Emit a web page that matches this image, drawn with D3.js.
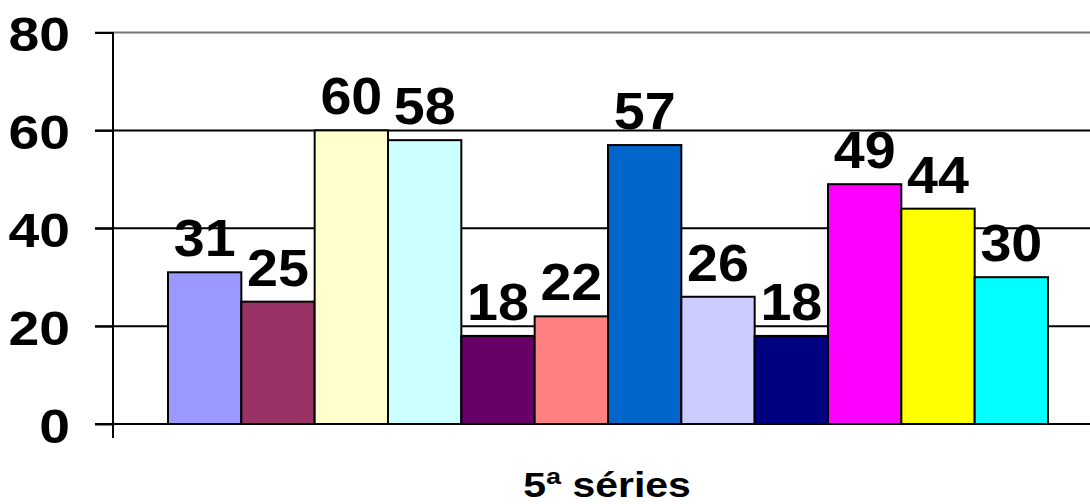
<!DOCTYPE html>
<html><head><meta charset="utf-8">
<script src="https://cdn.jsdelivr.net/npm/d3@7"></script>
<style>body{margin:0;background:#fff}svg{display:block}text{font-family:"Liberation Sans",Arial,sans-serif;font-weight:bold;fill:#000}</style>
</head><body>
<script>
const categories = ["1","2","3","4","5","6","7","8","9","10","11","12"];
const values = [31,25,60,58,18,22,57,26,18,49,44,30];
const colors = ["#9999FF","#993366","#FFFFCC","#CCFFFF","#660066","#FF8080","#0066CC","#CCCCFF","#000080","#FF00FF","#FFFF00","#00FFFF"];
const yTicks = [0,20,40,60,80];
const axisTitle = "5ª séries";

const W=1090,H=504;
const SX=1.13;
const svg=d3.select("body").append("svg").attr("width",W).attr("height",H);
const y=d3.scaleLinear().domain([0,80]).range([424,32.5]);
const x=d3.scaleBand().domain(categories).range([168,1048]).padding(0);

// gridlines
svg.append("g").selectAll("line").data(yTicks).join("line")
  .attr("x1",95).attr("x2",W).attr("y1",d=>y(d)).attr("y2",d=>y(d))
  .attr("stroke",d=>d===80?"#777":"#000").attr("stroke-width",2);

// bars
svg.append("g").selectAll("rect").data(values).join("rect")
  .attr("x",(d,i)=>x(categories[i])).attr("width",x.bandwidth())
  .attr("y",d=>y(d)).attr("height",d=>y(0)-y(d))
  .attr("fill",(d,i)=>colors[i]).attr("stroke","#000").attr("stroke-width",2);

// value labels
svg.append("g").selectAll("text").data(values).join("text")
  .attr("transform",(d,i)=>`translate(${x(categories[i])+x.bandwidth()/2},${y(d)-16}) scale(1.07,1)`)
  .attr("text-anchor","middle").attr("font-size",52).text(d=>d);

// y axis
const yAxis=d3.axisLeft(y).tickValues(yTicks).tickSize(18).tickPadding(0);
const ga=svg.append("g").attr("transform","translate(113,0)").call(yAxis);
ga.select(".domain").remove();
ga.selectAll(".tick line").attr("stroke","#000").attr("stroke-width",2);
ga.selectAll(".tick text").attr("x",null).attr("dy",null)
  .attr("transform",`translate(-43,18) scale(${SX},1)`)
  .attr("font-size",49).attr("font-family","Liberation Sans, Arial, sans-serif").attr("font-weight","bold").attr("fill","#000");
svg.append("line").attr("x1",113).attr("x2",113).attr("y1",32).attr("y2",438).attr("stroke","#000").attr("stroke-width",2);
svg.append("line").attr("x1",95).attr("x2",W).attr("y1",y(0)).attr("y2",y(0)).attr("stroke","#000").attr("stroke-width",2);

svg.append("text").attr("transform","translate(607,497) scale(1.17,1)").attr("text-anchor","middle").attr("font-size",35).text(axisTitle);
</script>
</body></html>
